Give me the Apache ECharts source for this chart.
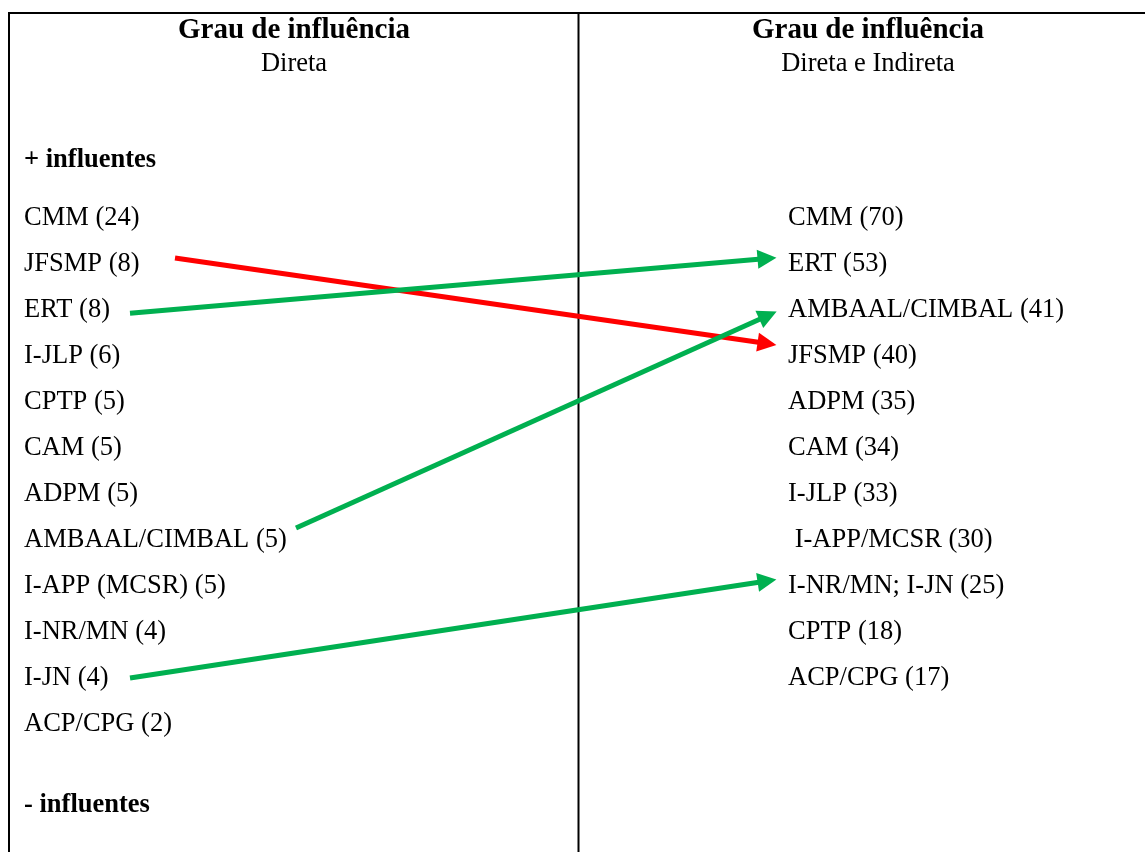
<!DOCTYPE html>
<html>
<head>
<meta charset="utf-8">
<script src="https://cdn.jsdelivr.net/npm/echarts@6/dist/echarts.min.js"></script>
<style>html,body{margin:0;padding:0;background:#fff}#c{width:1145px;height:852px}</style>
</head>
<body>
<div id="c"></div>
<script>
// ---- data ----
var titleText = 'Grau de influência';
var leftSubtitle = 'Direta';
var rightSubtitle = 'Direta e Indireta';
var topMarker = '+ influentes';
var bottomMarker = '- influentes';
var leftLabels = ['CMM', 'JFSMP', 'ERT', 'I-JLP', 'CPTP', 'CAM', 'ADPM', 'AMBAAL/CIMBAL', 'I-APP (MCSR)', 'I-NR/MN', 'I-JN', 'ACP/CPG'];
var leftValues = [24, 8, 8, 6, 5, 5, 5, 5, 5, 4, 4, 2];
var rightLabels = ['CMM', 'ERT', 'AMBAAL/CIMBAL', 'JFSMP', 'ADPM', 'CAM', 'I-JLP', ' I-APP/MCSR', 'I-NR/MN; I-JN', 'CPTP', 'ACP/CPG'];
var rightValues = [70, 53, 41, 40, 35, 34, 33, 30, 25, 18, 17];
// arrows: start [x, row], end [x, row] (rows in list units), colour class
var arrowStarts = [[175, 0.87], [130, 2.07], [296, 6.74], [130, 10.0]];
var arrowEnds = [[767, 2.73], [767, 0.88], [768, 2.12], [767, 7.89]];
var arrowKinds = ['down', 'up', 'up', 'up'];

// ---- layout/style ----
var FONT = "'Liberation Serif','Times New Roman',serif";
var LEFT_X = 24, RIGHT_X = 788;
var kindColor = { up: '#00B050', down: '#FF0000' };

function itemData(labels, values, x) {
  return labels.map(function (l, i) {
    return { value: [x, i], name: l + ' (' + values[i] + ')' };
  });
}

var textLabel = {
  show: true, position: 'right', distance: 0,
  formatter: function (p) { return p.name; },
  color: '#000000', fontFamily: FONT, fontSize: 26.5, align: 'left', verticalAlign: 'middle', opacity: 1
};

var chart = echarts.init(document.getElementById('c'), null, { renderer: 'canvas' });
chart.setOption({
  animation: false,
  backgroundColor: '#fff',
  grid: { left: 0, right: 0, top: 172, bottom: 82 },
  xAxis: { type: 'value', min: 0, max: 1145, show: false },
  yAxis: { type: 'value', min: -1, max: 12, inverse: true, show: false },
  graphic: [
    { type: 'line', shape: { x1: 8, y1: 13, x2: 1145, y2: 13 }, style: { stroke: '#000', lineWidth: 2 } },
    { type: 'line', shape: { x1: 9, y1: 12, x2: 9, y2: 852 }, style: { stroke: '#000', lineWidth: 2 } },
    { type: 'line', shape: { x1: 578.5, y1: 12, x2: 578.5, y2: 852 }, style: { stroke: '#000', lineWidth: 2 } },
    { type: 'text', x: 294, y: 31, style: { text: titleText, font: 'bold 29px ' + FONT, fill: '#000', align: 'center', verticalAlign: 'middle' } },
    { type: 'text', x: 294, y: 64, style: { text: leftSubtitle, font: '26.5px ' + FONT, fill: '#000', align: 'center', verticalAlign: 'middle' } },
    { type: 'text', x: 868, y: 31, style: { text: titleText, font: 'bold 29px ' + FONT, fill: '#000', align: 'center', verticalAlign: 'middle' } },
    { type: 'text', x: 868, y: 64, style: { text: rightSubtitle, font: '26.5px ' + FONT, fill: '#000', align: 'center', verticalAlign: 'middle' } }
  ],
  series: [
    {
      type: 'scatter', symbolSize: 0, clip: false, silent: true, itemStyle: { opacity: 1 },
      data: [{ value: [LEFT_X, -1.26], name: topMarker }, { value: [LEFT_X, 12.76], name: bottomMarker }],
      label: Object.assign({}, textLabel, { fontWeight: 'bold' })
    },
    {
      type: 'scatter', symbolSize: 0, clip: false, silent: true, itemStyle: { opacity: 1 },
      data: itemData(leftLabels, leftValues, LEFT_X), label: textLabel
    },
    {
      type: 'scatter', symbolSize: 0, clip: false, silent: true, itemStyle: { opacity: 1 },
      data: itemData(rightLabels, rightValues, RIGHT_X), label: textLabel
    },
    {
      type: 'lines', coordinateSystem: 'cartesian2d', silent: true,
      symbol: ['none', 'triangle'], symbolSize: 19,
      data: arrowStarts.map(function (s, i) {
        var c = kindColor[arrowKinds[i]];
        return { coords: [s, arrowEnds[i]], lineStyle: { color: c, width: 5, opacity: 1 }, itemStyle: { color: c } };
      })
    }
  ]
});
</script>
</body>
</html>
